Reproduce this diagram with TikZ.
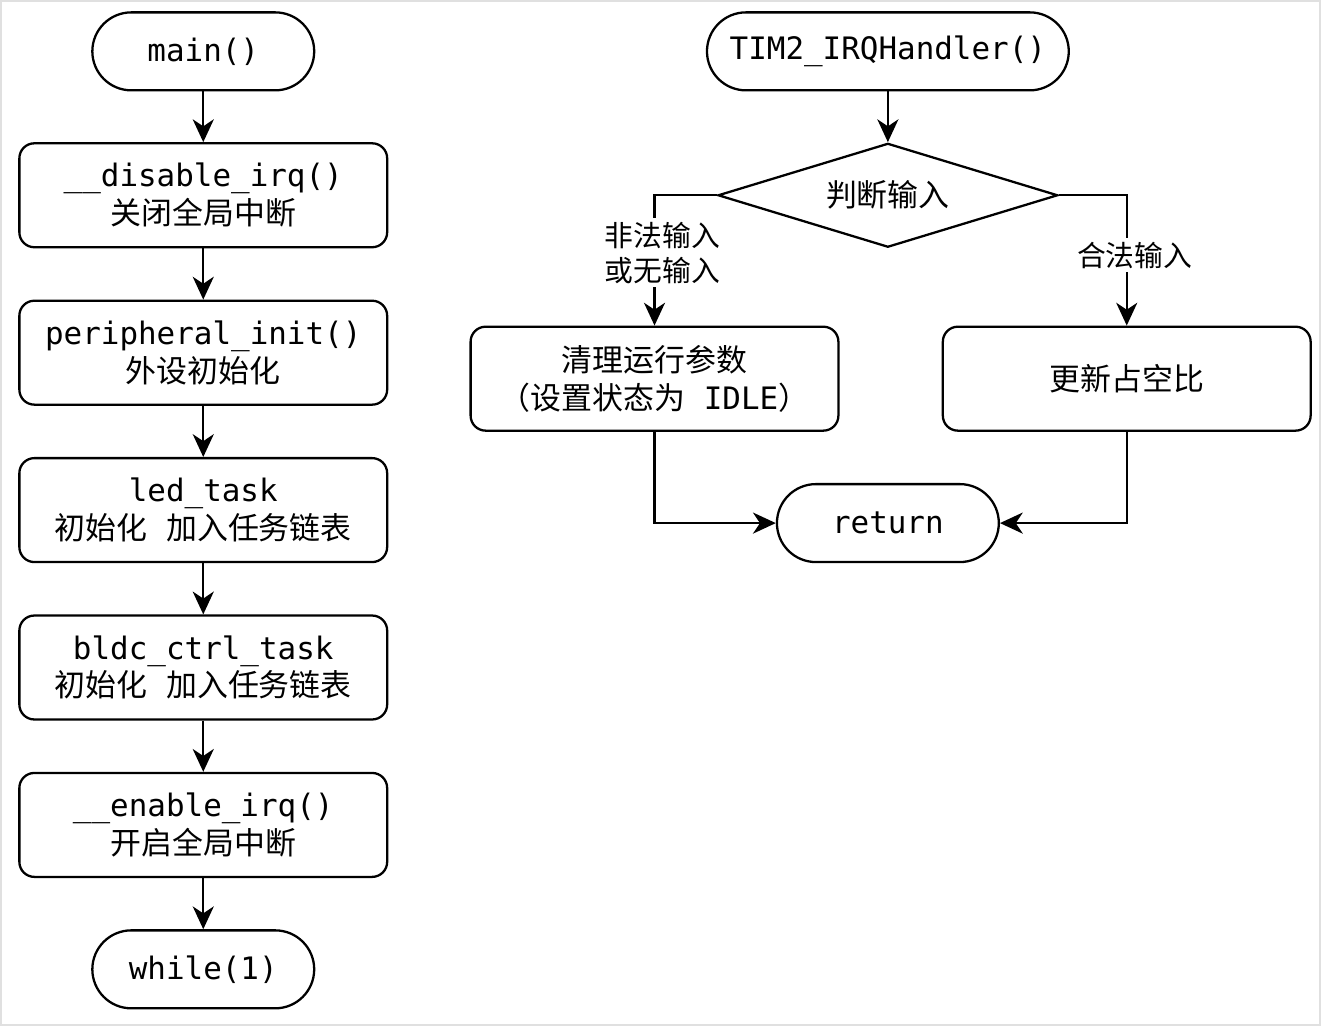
\documentclass[tikz,border=0pt]{standalone}
\usepackage{fontspec}
\setmainfont{DejaVu Sans Mono}
\newfontfamily\cjk{Noto Sans CJK SC}
\usetikzlibrary{shapes.geometric, arrows.meta}

\begin{document}
\begin{tikzpicture}[->, >={Stealth[length=13pt,width=12pt,inset=4pt]}, line width=1.3pt]
  \tikzstyle{term}=[draw, rounded corners=0.78cm, minimum width=4.44cm, minimum height=1.56cm, font=\fontsize{17.6}{21.5}\selectfont]
  \tikzstyle{proc}=[draw, rounded corners=0.3cm, minimum width=7.36cm, minimum height=2.08cm, align=center, font=\fontsize{17.6}{21.5}\selectfont]
  \tikzstyle{judge}=[draw, diamond, aspect=3.27, inner sep=0pt, minimum width=6.8cm, minimum height=2.08cm, font=\fontsize{17.6}{21}\selectfont\cjk]
  \tikzstyle{lbl}=[fill=white, inner sep=2pt, align=center, xshift=0.16cm, font=\fontsize{16.4}{20}\selectfont\cjk]

  \draw[-, draw=black!12, line width=1pt] (0.01,-0.01) rectangle (26.41,-20.51);
  \useasboundingbox (0,0) rectangle (26.42,-20.52);

  % left column
  \node[term] (main) at (4.06,-1.02) {main()};
  \node[proc] (disable) at (4.06,-3.90) {\_\_disable\_irq()\\{\cjk 关闭全局中断}};
  \node[proc] (periph) at (4.06,-7.05) {peripheral\_init()\\{\cjk 外设初始化}};
  \node[proc] (led) at (4.06,-10.20) {led\_task\\{\cjk 初始化} {\cjk 加入任务链表}};
  \node[proc] (bldc) at (4.06,-13.35) {bldc\_ctrl\_task\\{\cjk 初始化} {\cjk 加入任务链表}};
  \node[proc] (enable) at (4.06,-16.50) {\_\_enable\_irq()\\{\cjk 开启全局中断}};
  \node[term] (loop) at (4.06,-19.39) {while(1)};

  \draw (main) -- (disable);
  \draw (disable) -- (periph);
  \draw (periph) -- (led);
  \draw (led) -- (bldc);
  \draw (bldc) -- (enable);
  \draw (enable) -- (loop);

  % interrupt handler
  \node[term, minimum width=7.24cm] (irq) at (17.76,-1.02) {TIM2\_IRQHandler()};
  \node[judge] (check) at (17.76,-3.90) {判断输入};
  \node[proc] (clear) at (13.09,-7.57) {{\cjk 清理运行参数}\\{\cjk （设置状态为} IDLE{\cjk ）}};
  \node[proc] (update) at (22.54,-7.57) {\cjk 更新占空比};
  \node[term] (ret) at (17.76,-10.46) {return};

  \draw (irq) -- (check);
  \draw (check.west) -| node[lbl, pos=0.72] {非法输入\\或无输入} (clear.north);
  \draw (check.east) -| node[lbl, pos=0.73] {合法输入} (update.north);
  \draw (clear.south) |- (ret.west);
  \draw (update.south) |- (ret.east);
\end{tikzpicture}
\end{document}
